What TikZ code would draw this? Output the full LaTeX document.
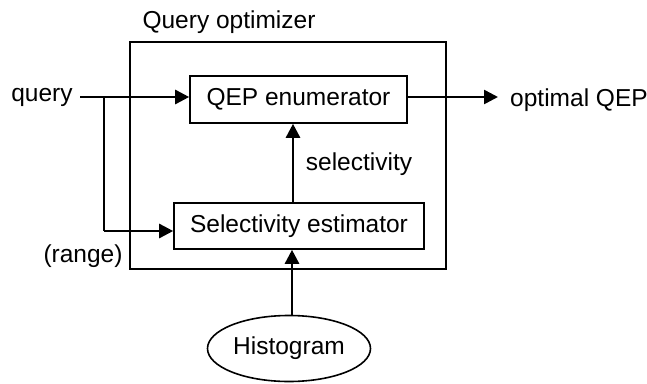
\documentclass[tikz,border=0pt]{standalone}
\usepackage{fontspec}
\setmainfont{Liberation Sans}
\usetikzlibrary{arrows.meta,shapes.geometric}
\begin{document}
\begin{tikzpicture}[x=1pt,y=-1pt,
  lbl/.style={font=\fontsize{24.5}{28}\selectfont, inner sep=0pt},
  boxn/.style={draw, line width=1.6pt, font=\fontsize{24.5}{28}\selectfont, inner sep=0pt},
  thick arrow/.style={line width=2.6pt, -{Triangle[length=14pt,width=14pt]}},
  thin line/.style={line width=1.6pt}]
\useasboundingbox (0,0) rectangle (647,383);
% outer box
\node[draw, line width=1.6pt, minimum width=316pt, minimum height=227pt, inner sep=0pt] (opt) at (288,155.5) {};
\node[lbl] (title) at (229,22) {Query optimizer};
% inner boxes
\node[boxn, minimum width=217pt, minimum height=47pt] (qep) at (298.5,99.5) {QEP enumerator};
\node[boxn, minimum width=250pt, minimum height=46pt] (sel) at (299,226) {Selectivity estimator};
\node[draw, ellipse, line width=1.6pt, minimum width=163pt, minimum height=66pt, inner sep=0pt,
      font=\fontsize{24.5}{28}\selectfont] (hist) at (289,348.5) {Histogram};
% labels
\node[lbl] (query) at (42,97) {query};
\node[lbl] (range) at (83,256) {(range)};
\node[lbl] (selab) at (359,164) {selectivity};
\node[lbl] (out) at (579,100) {optimal QEP};
\coordinate (qs) at (80,97);
\coordinate (br) at (104,97);
\coordinate (bd) at (104,231);
\coordinate (oe) at (498,97);
% connectors
\draw[thick arrow] (qs) -- (qep.west |- qs);
\draw[thin line] (br) -- (bd);
\draw[thick arrow] (bd) -- (sel.west |- bd);
\draw[thick arrow] (qep.east |- oe) -- (oe);
\draw[thick arrow] (sel.north -| 293,0) -- (qep.south -| 293,0);
\draw[thick arrow] (hist.north -| 292,0) -- (sel.south -| 292,0);
\end{tikzpicture}
\end{document}
